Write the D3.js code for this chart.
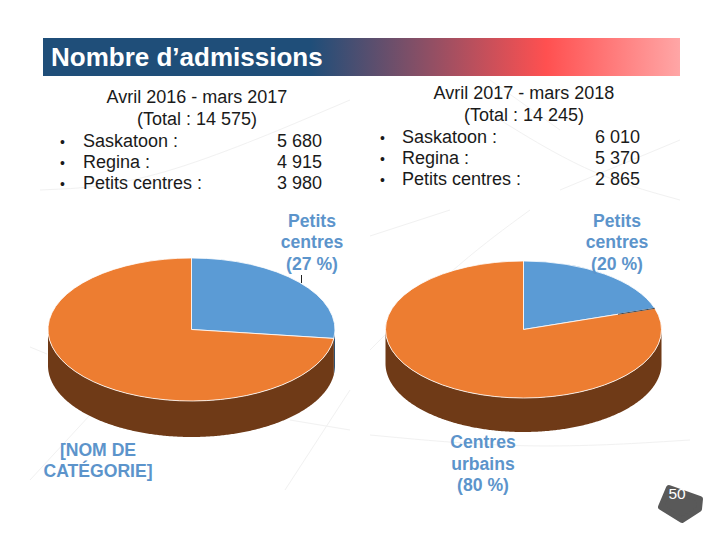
<!DOCTYPE html>
<html><head><meta charset="utf-8">
<script src="https://cdn.jsdelivr.net/npm/d3@7"></script>
<style>html,body{margin:0;padding:0;background:#fff}svg{display:block}text{font-family:"Liberation Sans",Arial,sans-serif}</style>
</head><body><svg id="c" width="720" height="540"></svg>
<script>
const title = "Nombre d’admissions";
const categories = ["Petits centres", "Centres urbains"];
const leftShares = [27, 73];
const rightShares = [20, 80];
const leftHeader = ["Avril 2016 - mars 2017", "(Total : 14 575)"];
const rightHeader = ["Avril 2017 - mars 2018", "(Total : 14 245)"];
const rowNames = ["Saskatoon :", "Regina :", "Petits centres :"];
const leftRows = ["5 680", "4 915", "3 980"];
const rightRows = ["6 010", "5 370", "2 865"];
const leftLabels = [["Petits", "centres", "(27 %)"], ["[NOM DE", "CATÉGORIE]"]];
const rightLabels = [["Petits", "centres", "(20 %)"], ["Centres", "urbains", "(80 %)"]];
const pageNumber = "50";

const topColors = ["#5b9bd5", "#ed7d31"];
const sideColors = ["#2f5172", "#6f3a17"];
const labelColor = "#5c94cb";
const svg = d3.select("#c");

// faint decorative background strokes of the slide
const decor = [
  [[30,347],[47,354]], [[370,236],[450,210]], [[370,350],[455,265],[530,210]],
  [[290,420],[350,430]], [[285,490],[350,390]], [[370,435],[530,450],[690,440]],
  [[40,190],[150,185],[350,100]], [[30,480],[90,415]], [[500,120],[590,175],[680,200]],
  [[560,190],[680,140]], [[490,80],[560,130]]
];
const decorLine = d3.line().curve(d3.curveBasis);
decor.forEach(d => svg.append("path").attr("d", decorLine(d)).attr("fill", "none").attr("stroke", "#f1f1f1").attr("stroke-width", 1));

const defs = svg.append("defs");
const g = defs.append("linearGradient").attr("id", "band");
[[0, "#1f4e79"], [0.42, "#1f4e79"], [0.79, "#ff5050"], [1, "#ffa6a6"]].forEach(([o, c]) =>
  g.append("stop").attr("offset", o).attr("stop-color", c));

svg.append("rect").attr("x", 43).attr("y", 38).attr("width", 637).attr("height", 38).attr("fill", "url(#band)");
svg.append("text").attr("x", 51).attr("y", 66).attr("font-size", 26).attr("font-weight", 700).attr("fill", "#fff").text(title);

function pie3d(shares, cx, cy, rx, ry, depth) {
  const arcs = d3.pie().sort(null).value(d => d)(shares);
  const root = svg.append("g").attr("transform", `translate(${cx},${cy})`);
  const sx = d3.scaleLinear().domain([0, 1]).range([0, rx]);
  const sy = d3.scaleLinear().domain([0, 1]).range([0, ry]);
  arcs.forEach((a, i) => {
    const lo = Math.max(a.startAngle, Math.PI / 2), hi = Math.min(a.endAngle, Math.PI * 1.5);
    if (lo >= hi) return;
    const ts = d3.range(lo, hi, 0.01).concat([hi]);
    const top = ts.map(t => [sx(Math.sin(t)), sy(-Math.cos(t))]);
    const bottom = top.map(p => [p[0], p[1] + depth]).reverse();
    root.append("path").attr("d", d3.line()(top.concat(bottom)) + "Z").attr("fill", sideColors[i]);
  });
  const arcGen = d3.arc().innerRadius(0).outerRadius(1);
  const face = root.append("g").attr("transform", `scale(${rx},${ry})`);
  arcs.forEach((a, i) => {
    face.append("path").attr("d", arcGen(a)).attr("fill", topColors[i])
      .attr("stroke", "#fff").attr("stroke-width", 0.8).attr("vector-effect", "non-scaling-stroke");
  });
  return { arcs, sx, sy, root };
}
pie3d(leftShares, 191.5, 329.5, 143.5, 71.5, 36);
const rightPie = pie3d(rightShares, 523.5, 329.5, 138, 68.5, 34);

// dark outer stretch of the slice boundary on the second pie
const edge = rightPie.arcs[0].endAngle;
const edgeX = rightPie.sx(Math.sin(edge)), edgeY = rightPie.sy(-Math.cos(edge));
rightPie.root.append("line")
  .attr("x1", edgeX * 0.72).attr("y1", edgeY * 0.72).attr("x2", edgeX).attr("y2", edgeY)
  .attr("stroke", "#3f4a55").attr("stroke-width", 1);

// thin black leader of the first pie
svg.append("line").attr("x1", 301.5).attr("x2", 301.5).attr("y1", 275).attr("y2", 283).attr("stroke", "#222").attr("stroke-width", 1);

function lines(arr, x, ys, color, weight, size) {
  arr.forEach((s, i) => svg.append("text").attr("x", x).attr("y", ys[i]).attr("text-anchor", "middle")
    .attr("font-size", size).attr("font-weight", weight).attr("fill", color).text(s));
}
function block(head, rows, hx, hy, bx, tx, vx, y0) {
  lines(head, hx, [hy, hy + 21.5], "#1a1a1a", 400, 18);
  rowNames.forEach((n, i) => {
    const y = y0 + i * 21.3;
    svg.append("text").attr("x", bx).attr("y", y).attr("font-size", 14).attr("fill", "#1a1a1a").text("•");
    svg.append("text").attr("x", tx).attr("y", y).attr("font-size", 18).attr("fill", "#1a1a1a").text(n);
    svg.append("text").attr("x", vx).attr("y", y).attr("text-anchor", "end").attr("font-size", 18).attr("fill", "#1a1a1a").text(rows[i]);
  });
}
block(leftHeader, leftRows, 197, 103, 60, 83, 322, 146.5);
block(rightHeader, rightRows, 524, 99, 380, 402, 640, 142.5);

lines(leftLabels[0], 312, [226.5, 247.5, 270], labelColor, 700, 17.6);
lines(rightLabels[0], 617, [226.5, 247.5, 270], labelColor, 700, 17.6);
lines(leftLabels[1], 98, [456, 477], labelColor, 700, 17.6);
lines(rightLabels[1], 483, [448, 469.5, 491], labelColor, 700, 17.6);

svg.append("path").attr("d", d3.line()([[669,488],[700,499],[699,509],[682,520],[661,507]]) + "Z")
  .attr("fill", "#595959").attr("stroke", "#595959").attr("stroke-width", 6).attr("stroke-linejoin", "round");
svg.append("text").attr("x", 677).attr("y", 499).attr("text-anchor", "middle").attr("font-size", 15.5).attr("fill", "#fff").text(pageNumber);
</script></body></html>
